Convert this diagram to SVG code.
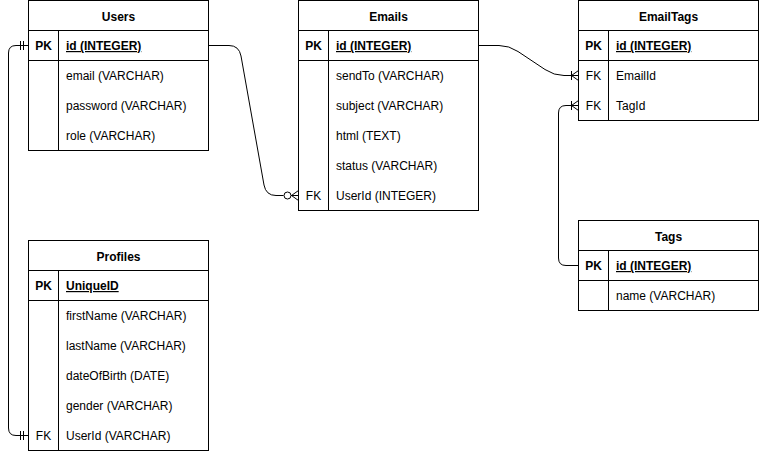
<svg xmlns="http://www.w3.org/2000/svg" width="759" height="451" viewBox="0 0 759 451">
<style>
.box{fill:#fff;stroke:#000;stroke-width:1}
.ln{fill:none;stroke:#000;stroke-width:1}
text{font-family:"Liberation Sans",Arial,Helvetica,sans-serif;font-size:12px;fill:#000}
.t{font-weight:bold;text-anchor:middle}
.k{text-anchor:middle}
.kb{font-weight:bold;text-anchor:middle}
.pk{font-weight:bold;text-decoration:underline}
.e{fill:none;stroke:#000;stroke-width:1}
</style>
<rect width="759" height="451" fill="#fff"/>
<g id="Users">
<rect class="box" x="28.5" y="0.5" width="180" height="150"/>
<path class="ln" d="M28.5,30.5H208.5M28.5,60.5H208.5M58.5,30.5V150.5"/>
<text class="t" x="118.5" y="21">Users</text>
<text class="kb" x="43.5" y="50">PK</text>
<text class="pk" x="66" y="50">id (INTEGER)</text>
<text x="66" y="80">email (VARCHAR)</text>
<text x="66" y="110">password (VARCHAR)</text>
<text x="66" y="140">role (VARCHAR)</text>
</g>
<g id="Emails">
<rect class="box" x="298.5" y="0.5" width="180" height="210"/>
<path class="ln" d="M298.5,30.5H478.5M298.5,60.5H478.5M328.5,30.5V210.5"/>
<text class="t" x="388.5" y="21">Emails</text>
<text class="kb" x="313.5" y="50">PK</text>
<text class="pk" x="336" y="50">id (INTEGER)</text>
<text x="336" y="80">sendTo (VARCHAR)</text>
<text x="336" y="110">subject (VARCHAR)</text>
<text x="336" y="140">html (TEXT)</text>
<text x="336" y="170">status (VARCHAR)</text>
<text class="k" x="313.5" y="200">FK</text>
<text x="336" y="200">UserId (INTEGER)</text>
</g>
<g id="EmailTags">
<rect class="box" x="578.5" y="0.5" width="180" height="120"/>
<path class="ln" d="M578.5,30.5H758.5M578.5,60.5H758.5M608.5,30.5V120.5"/>
<text class="t" x="668.5" y="21">EmailTags</text>
<text class="kb" x="593.5" y="50">PK</text>
<text class="pk" x="616" y="50">id (INTEGER)</text>
<text class="k" x="593.5" y="80">FK</text>
<text x="616" y="80">EmailId</text>
<text class="k" x="593.5" y="110">FK</text>
<text x="616" y="110">TagId</text>
</g>
<g id="Tags">
<rect class="box" x="578.5" y="220.5" width="180" height="90"/>
<path class="ln" d="M578.5,250.5H758.5M578.5,280.5H758.5M608.5,250.5V310.5"/>
<text class="t" x="668.5" y="241">Tags</text>
<text class="kb" x="593.5" y="270">PK</text>
<text class="pk" x="616" y="270">id (INTEGER)</text>
<text x="616" y="300">name (VARCHAR)</text>
</g>
<g id="Profiles">
<rect class="box" x="28.5" y="240.5" width="180" height="210"/>
<path class="ln" d="M28.5,270.5H208.5M28.5,300.5H208.5M58.5,270.5V450.5"/>
<text class="t" x="118.5" y="261">Profiles</text>
<text class="kb" x="43.5" y="290">PK</text>
<text class="pk" x="66" y="290">UniqueID</text>
<text x="66" y="320">firstName (VARCHAR)</text>
<text x="66" y="350">lastName (VARCHAR)</text>
<text x="66" y="380">dateOfBirth (DATE)</text>
<text x="66" y="410">gender (VARCHAR)</text>
<text class="k" x="43.5" y="440">FK</text>
<text x="66" y="440">UserId (VARCHAR)</text>
</g>
<g id="connectors">
<path class="e" d="M208.5,45.5H229Q239,45.5 241,56L264,185Q266,195.5 276,195.5H283.5"/>
<circle class="e" cx="287.5" cy="195.5" r="3.5"/>
<path class="e" d="M291,195.5H298.5M291.5,195.5L298.5,190.5M291.5,195.5L298.5,200.5"/>
<path class="e" d="M28.5,45.5H16Q8.5,45.5 8.5,53V428Q8.5,435.5 16,435.5H28.5"/>
<path class="e" d="M20.5,41V50M23.5,41V50M20.5,431V440M23.5,431V440"/>
<path class="e" d="M478.5,45.5H499Q509,45.5 518,51.5L545,69.5Q554,75.5 564,75.5H578.5"/>
<path class="e" d="M571.5,71V80M571.5,75.5L578.5,70.5M571.5,75.5L578.5,80.5"/>
<path class="e" d="M578.5,265.5H566Q558.5,265.5 558.5,258V113Q558.5,105.5 566,105.5H578.5"/>
<path class="e" d="M571.5,101V110M571.5,105.5L578.5,100.5M571.5,105.5L578.5,110.5"/>
</g>
</svg>
